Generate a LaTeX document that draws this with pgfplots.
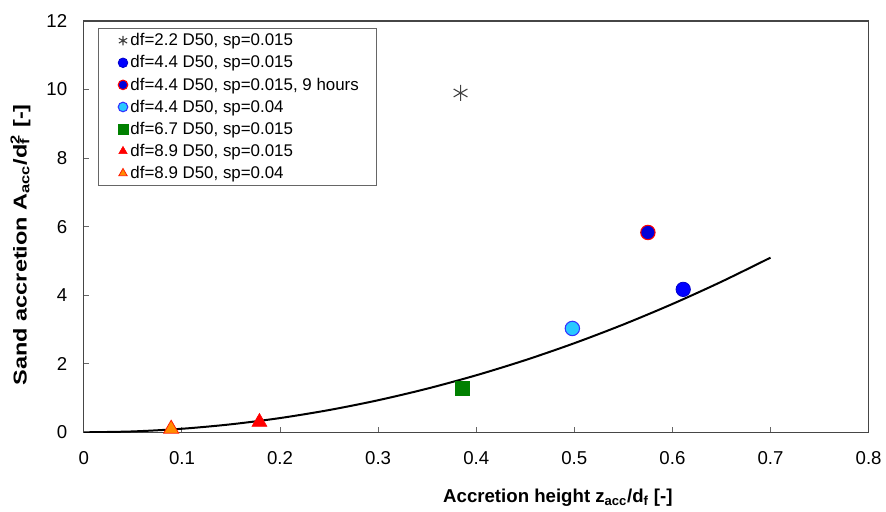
\documentclass[border=0pt]{standalone}
\usepackage{fontspec}
\setmainfont{Liberation Sans}
\usepackage{pgfplots}
\pgfplotsset{compat=1.18}
\definecolor{lblue}{RGB}{40,200,255}
\definecolor{dgreen}{RGB}{0,128,0}
\definecolor{orng}{RGB}{255,140,0}
\definecolor{axgray}{RGB}{70,70,70}
\begin{document}
\begin{tikzpicture}
\begin{axis}[
 scale only axis, width=589.5pt, height=309pt,
 xmin=0, xmax=0.8, ymin=0, ymax=12,
 axis line style={axgray, line width=0.9pt},
 tick pos=left,
 xtick={0,0.1,0.2,0.3,0.4,0.5,0.6,0.7,0.8},
 ytick={0,2,4,6,8,10,12},
 tick align=inside, major tick length=4pt,
 tick style={black!60, line width=0.7pt},
 /pgf/number format/assume math mode=true,
 ticklabel style={font=\fontsize{14}{16}\selectfont},
 xticklabel style={/pgf/number format/fixed, yshift=-11pt},
 yticklabel style={xshift=-9pt},
 xlabel={\textbf{Accretion height z\textsubscript{acc}/d\textsubscript{f} [-]}},
 ylabel={\textbf{Sand accretion A\textsubscript{acc}/d\rlap{\textsubscript{f}}\textsuperscript{2} [-]}},
 label style={font=\fontsize{14}{16}\selectfont},
 xlabel style={at={(axis description cs:0.604,-0.170)}, anchor=base},
 ylabel style={at={(axis description cs:-0.073,0.456)}, anchor=base, xscale=1.26},
 legend style={at={(0.0178,0.983)}, anchor=north west, draw=black!60,
   font=\fontsize{12.7}{15}\selectfont, cells={anchor=west},
   inner xsep=1pt, inner ysep=2pt, row sep=1.9pt},
 legend image code/.code={\path (0,0); \draw[#1, mark size=3.6pt] plot coordinates {(17.3pt,0cm)};},
]
\addplot[only marks, mark=asterisk, mark size=6pt, draw=black!75, line width=0.8pt]
 coordinates {(0.384,9.90)};
\addlegendentry{df=2.2 D50, sp=0.015}
\addplot[only marks, mark=*, mark size=5.4pt, draw=blue!80!black, fill=blue, line width=0.6pt]
 coordinates {(0.611,4.17)};
\addlegendentry{df=4.4 D50, sp=0.015}
\addplot[only marks, mark=*, mark size=5.4pt, draw=red, fill=blue!85!black, line width=0.8pt]
 coordinates {(0.575,5.83)};
\addlegendentry{df=4.4 D50, sp=0.015, 9 hours\hspace*{9.75pt}}
\addplot[only marks, mark=*, mark size=5.4pt, draw=blue!80, fill=lblue, line width=0.8pt]
 coordinates {(0.498,3.03)};
\addlegendentry{df=4.4 D50, sp=0.04}
\addplot[only marks, mark=square*, mark size=5.2pt, draw=dgreen, fill=dgreen]
 coordinates {(0.386,1.28)};
\addlegendentry{df=6.7 D50, sp=0.015}
\addplot[only marks, mark=triangle*, mark size=6.5pt, draw=red, fill=red]
 coordinates {(0.179,0.30)};
\addlegendentry{df=8.9 D50, sp=0.015}
\addplot[only marks, mark=triangle*, mark size=6.5pt, draw=red!80!orng, fill=orng, line width=0.6pt]
 coordinates {(0.089,0.10)};
\addlegendentry{df=8.9 D50, sp=0.04}
\addplot[black, line width=1.5pt, smooth, forget plot] coordinates {
 (0,0) (0.05,0.026) (0.1,0.104) (0.15,0.234) (0.2,0.416) (0.25,0.65)
 (0.3,0.936) (0.35,1.274) (0.4,1.664) (0.45,2.106) (0.5,2.6)
 (0.55,3.146) (0.6,3.744) (0.65,4.394) (0.7,5.096)};
\end{axis}
\path ([xshift=-63pt,yshift=-59.25pt]current axis.south west) rectangle ([xshift=12pt,yshift=15.75pt]current axis.north east);
\end{tikzpicture}
\end{document}
